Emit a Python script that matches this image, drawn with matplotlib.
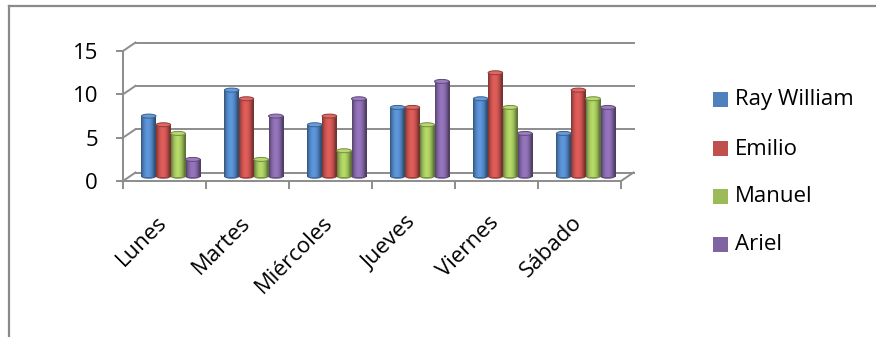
import numpy as np
import matplotlib
matplotlib.use("Agg")
import matplotlib.pyplot as plt
from matplotlib.patches import Ellipse, Rectangle
from matplotlib.lines import Line2D
from matplotlib.colors import to_rgb

# ---- data ----
days = ["Lunes", "Martes", "Miércoles", "Jueves", "Viernes", "Sábado"]
series_names = ["Ray William", "Emilio", "Manuel", "Ariel"]
ray_william = [7, 10, 6, 8, 9, 5]
emilio = [6, 9, 7, 8, 12, 10]
manuel = [5, 2, 3, 6, 8, 9]
ariel = [2, 7, 9, 11, 5, 8]
yticks = [0, 5, 10, 15]

series = [ray_william, emilio, manuel, ariel]
colors = ["#4F81BD", "#C0504D", "#9BBB59", "#8064A2"]

W, H = 876, 337
plt.rcParams['font.family'] = ['Open Sans', 'DejaVu Sans']
FS = 16
fig = plt.figure(figsize=(W / 100, H / 100), dpi=100)

# front plane of the 3D-like chart in pixels
L, R, B, T = 123, 621, 181, 51
ax = fig.add_axes([L / W, 1 - B / H, (R - L) / W, (B - T) / H])
ax.set_xlim(0, len(days))
ax.set_ylim(0, 15)
pxx = (R - L) / len(days)     # px per category
pxy = (B - T) / 15.0          # px per value unit

DX = 12.5 / pxx   # depth offset (data units)
DY = 8.5 / pxy

grid_c = "#8c8c8c"
lw = 1.4
for s in ["top", "right"]:
    ax.spines[s].set_visible(False)
for s in ["left", "bottom"]:
    ax.spines[s].set_color(grid_c)
    ax.spines[s].set_linewidth(lw)

ax.set_yticks(yticks)
ax.tick_params(axis="y", direction="out", length=5, width=lw, color=grid_c,
               labelsize=FS, pad=13, labelcolor="black")
ax.set_xticks(np.arange(len(days) + 1))
ax.set_xticklabels([])
ax.tick_params(axis="x", direction="out", length=6, width=lw, color=grid_c)

# back wall gridlines + floor
for v in yticks:
    ax.plot([0, DX], [v, v + DY], color=grid_c, lw=lw, clip_on=False, zorder=1)
    ax.plot([DX, len(days) + DX], [v + DY, v + DY], color=grid_c, lw=lw,
            clip_on=False, zorder=1)
ax.plot([len(days), len(days) + DX], [0, DY], color=grid_c, lw=lw,
        clip_on=False, zorder=1)

# cylinders
bw = 14.7 / pxx
width = 14.6 / pxx
ell_h = 4.0 / pxy
t = np.linspace(0, 1, 64)
shade = 0.62 + 0.55 * np.sin(np.pi * np.clip(t * 1.1, 0, 1)) ** 0.8
for j, (vals, col) in enumerate(zip(series, colors)):
    rgb = np.array(to_rgb(col))
    grad = np.clip(rgb[None, :] * shade[:, None], 0, 1)[None, :, :]
    for i, v in enumerate(vals):
        xc = i + 0.5 + (j - 1.5) * bw + DX / 2
        yb = DY / 2
        x0, x1 = xc - width / 2, xc + width / 2
        z = 3 + i * 0.01 + j * 0.001
        ax.add_patch(Ellipse((xc, yb), width, ell_h, facecolor=rgb * 0.8,
                             edgecolor="none", zorder=z, clip_on=False))
        ax.imshow(grad, extent=[x0, x1, yb, yb + v], aspect="auto",
                  interpolation="bilinear", zorder=z, clip_on=False)
        top = np.clip(rgb * 1.05 + 0.08, 0, 1)
        ax.add_patch(Ellipse((xc, yb + v), width, ell_h, facecolor=top,
                             edgecolor=rgb * 0.75, lw=0.7, zorder=z, clip_on=False))

ax.set_xlim(0, len(days))
ax.set_ylim(0, 15)

# category labels
for i, d in enumerate(days):
    ax.text(i + 0.5 + 7.0 / pxx, -31.0 / pxy, d, rotation=45, ha="right",
            va="top", fontsize=FS, color="black", clip_on=False)

# legend
rows = [99, 148, 196, 244]
for name, col, r in zip(series_names, colors, rows):
    fig.patches.append(Rectangle((713 / W, 1 - (r + 7.5) / H), 15 / W, 15 / H,
                                 transform=fig.transFigure, facecolor=col,
                                 edgecolor="none"))
    fig.text(735 / W, 1 - (r + 1) / H, name, fontsize=FS, va="center", ha="left")

# chart border (top and left visible)
fig.add_artist(Line2D([9 / W, 1], [1 - 6 / H, 1 - 6 / H], color="#8a8a8a",
                      lw=1.6, transform=fig.transFigure))
fig.add_artist(Line2D([9 / W, 9 / W], [1 - 6 / H, 0], color="#8a8a8a",
                      lw=1.6, transform=fig.transFigure))

fig.savefig("out.png", dpi=100)
